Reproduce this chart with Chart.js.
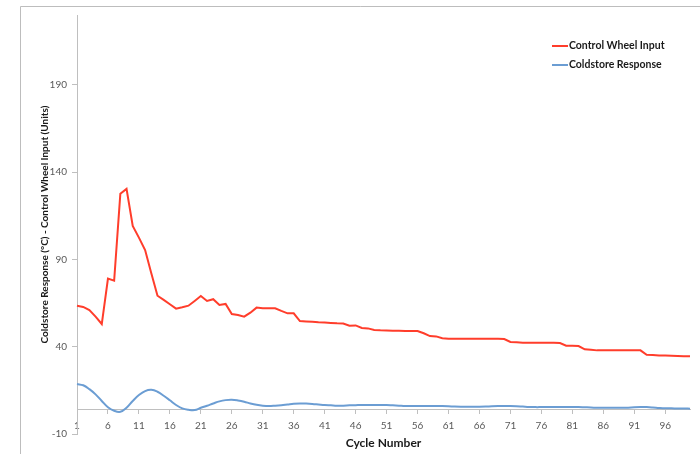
<!DOCTYPE html>
<html><head><meta charset="utf-8">
<script src="https://cdn.jsdelivr.net/npm/chart.js@4/dist/chart.umd.min.js"></script>
<style>html,body{margin:0;padding:0;background:#fff}</style>
</head><body>
<canvas id="c" width="700" height="454"></canvas>
<script>
const cycles = [1,2,3,4,5,6,7,8,9,10,11,12,13,14,15,16,17,18,19,20,21,22,23,24,25,26,27,28,29,30,31,32,33,34,35,36,37,38,39,40,41,42,43,44,45,46,47,48,49,50,51,52,53,54,55,56,57,58,59,60,61,62,63,64,65,66,67,68,69,70,71,72,73,74,75,76,77,78,79,80,81,82,83,84,85,86,87,88,89,90,91,92,93,94,95,96,97,98,99,100];

const controlWheelInput = [63.5,62.8,61.0,57.2,53.0,79.0,77.8,127.6,130.4,109.2,
  102.5,95.4,82.1,69.2,66.8,64.3,61.8,62.6,63.5,66.2,
  69.0,66.2,67.2,63.9,64.5,58.7,58.2,57.2,59.5,62.4,
  62.0,62.0,62.0,60.5,59.1,59.1,54.7,54.5,54.3,54.0,
  53.8,53.6,53.4,53.3,52.0,52.2,50.7,50.5,49.6,49.4,
  49.3,49.2,49.1,49.0,49.0,49.0,47.7,46.1,45.9,44.8,
  44.6,44.5,44.5,44.5,44.5,44.5,44.5,44.5,44.5,44.4,
  42.7,42.5,42.3,42.3,42.3,42.3,42.3,42.3,42.1,40.6,
  40.6,40.4,38.5,38.2,37.9,37.9,37.9,37.9,37.9,37.9,
  37.9,37.9,35.4,35.2,35.0,34.9,34.8,34.7,34.6,34.5];

const coldstoreResponse = [18.6,17.9,15.7,12.7,8.9,5.3,3.3,2.7,5.0,8.9,
  12.3,14.6,15.3,14.2,11.9,9.3,6.6,4.7,3.9,3.7,
  5.0,6.2,7.5,8.7,9.4,9.6,9.2,8.5,7.5,6.7,
  6.2,6.0,6.2,6.5,6.9,7.3,7.5,7.4,7.2,6.9,
  6.6,6.4,6.2,6.2,6.4,6.5,6.6,6.6,6.6,6.6,
  6.6,6.4,6.2,6.0,6.0,6.0,6.0,6.0,6.0,6.0,
  5.9,5.7,5.6,5.6,5.6,5.6,5.7,5.9,6.0,6.0,
  6.0,5.9,5.7,5.5,5.4,5.4,5.4,5.4,5.4,5.4,
  5.4,5.4,5.3,5.2,5.0,5.0,5.0,5.0,5.0,5.1,
  5.3,5.4,5.4,5.2,4.9,4.7,4.7,4.6,4.6,4.5];

const yTickValues = [-10, 40, 90, 140, 190];
const seriesNames = ['Control Wheel Input', 'Coldstore Response'];
const seriesColors = ['#ff3d2b', '#6b9dd3'];

const FONT = 'Lato, "Open Sans", sans-serif';
const axisGray = '#bfbfbf';

const frameAndLegend = {
  id: 'frameAndLegend',
  beforeDraw(chart) {
    const ctx = chart.ctx;
    ctx.save();
    ctx.strokeStyle = '#bdbdbd';
    ctx.lineWidth = 1;
    ctx.beginPath();
    ctx.moveTo(20.5, 454);
    ctx.lineTo(20.5, 6.5);
    ctx.lineTo(700, 6.5);
    ctx.stroke();
    ctx.restore();
  },
  afterDraw(chart) {
    const ctx = chart.ctx;
    ctx.save();
    ctx.font = 'bold 10.5px ' + FONT;
    ctx.textBaseline = 'middle';
    ctx.textAlign = 'left';
    chart.data.datasets.forEach((ds, i) => {
      const y = 46 + i * 19;
      ctx.strokeStyle = ds.borderColor;
      ctx.lineWidth = 2;
      ctx.beginPath();
      ctx.moveTo(552, y);
      ctx.lineTo(568, y);
      ctx.stroke();
      ctx.fillStyle = '#1a1a1a';
      ctx.fillText(ds.label, 569, y);
    });
    ctx.restore();
  }
};

new Chart(document.getElementById('c'), {
  type: 'line',
  data: {
    labels: cycles,
    datasets: [
      { label: seriesNames[0], data: controlWheelInput, borderColor: seriesColors[0], backgroundColor: seriesColors[0],
        borderWidth: 2, pointRadius: 0, tension: 0 },
      { label: seriesNames[1], data: coldstoreResponse, borderColor: seriesColors[1], backgroundColor: seriesColors[1],
        borderWidth: 2, pointRadius: 0, tension: 0.4 }
    ]
  },
  options: {
    responsive: false,
    animation: false,
    devicePixelRatio: 1,
    layout: { padding: { left: 0, top: 15, right: 10, bottom: 0 } },
    plugins: {
      legend: { display: false },
      tooltip: { enabled: false },
      title: {
        display: true, position: 'bottom', fullSize: false,
        text: 'Cycle Number', color: '#1a1a1a',
        font: { family: FONT, size: 12, weight: 'bold', lineHeight: 1.2 },
        padding: { top: 1.8, bottom: 3.8 }
      }
    },
    scales: {
      x: {
        type: 'category',
        position: { y: 4 },
        offset: false,
        grid: { display: true, drawOnChartArea: false, drawTicks: true, tickLength: 4, color: axisGray },
        border: { display: true, color: axisGray, width: 1 },
        ticks: { autoSkip: false, maxRotation: 0, minRotation: 0, padding: 6, color: '#595959',
          font: { family: FONT, size: 10 } },
        afterBuildTicks(scale) { scale.ticks = scale.ticks.filter((t, i) => i % 5 === 0); }
      },
      y: {
        min: -10, max: 230,
        grid: { display: true, drawOnChartArea: false, drawTicks: true, tickLength: 5, color: axisGray },
        border: { display: true, color: axisGray, width: 1 },
        ticks: { padding: 5, color: '#595959', font: { family: FONT, size: 10 } },
        afterBuildTicks(scale) { scale.ticks = yTickValues.map(v => ({ value: v })); },
        afterFit(scale) { scale.width = 77; },
        title: {
          display: true,
          text: 'Coldstore Response (°C) - Control Wheel Input (Units)',
          color: '#1a1a1a',
          font: { family: FONT, size: 10, weight: 'bold', lineHeight: 1.2 },
          padding: { top: 39, bottom: 0 }
        }
      }
    }
  },
  plugins: [frameAndLegend]
});
</script>
</body></html>
